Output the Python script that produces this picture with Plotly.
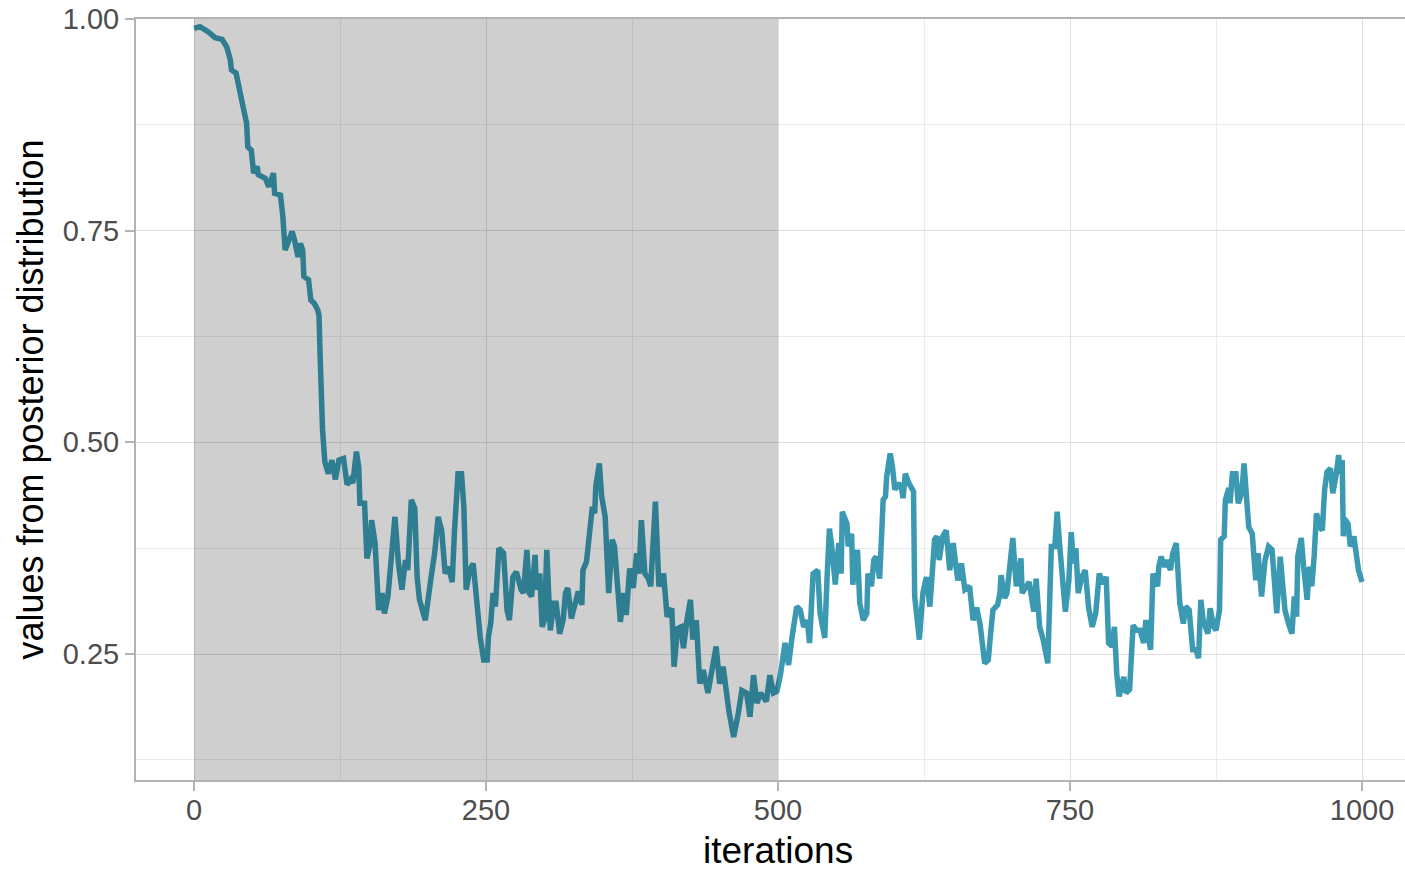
import plotly.graph_objects as go

# MCMC trace of one parameter: iteration index and sampled value
iteration = [
    0, 5, 12, 18, 24, 28, 31, 32, 36, 39, 42, 45, 46, 49, 51, 54, 55, 61, 64, 68,
    69, 74, 76, 78, 84, 86, 89, 91, 93, 94, 98, 100, 103, 106, 107, 108, 109, 110, 112, 115,
    118, 121, 124, 128, 131, 134, 136, 139, 141, 142, 146, 148, 151, 152, 155, 158, 161, 163, 166, 169,
    172, 175, 178, 181, 183, 186, 189, 191, 193, 198, 201, 203, 206, 209, 212, 215, 218, 221, 223, 226,
    229, 231, 233, 236, 239, 242, 245, 248, 251, 252, 254, 256, 258, 261, 265, 268, 270, 273, 276, 280,
    282, 285, 287, 289, 292, 293, 296, 298, 300, 302, 305, 308, 310, 313, 316, 318, 320, 323, 326, 329,
    332, 333, 336, 339, 341, 343, 344, 347, 349, 352, 355, 358, 360, 365, 368, 370, 373, 376, 379, 381,
    383, 386, 389, 391, 393, 395, 398, 402, 405, 409, 411, 414, 417, 419, 422, 425, 427, 430, 433, 436,
    440, 443, 447, 450, 453, 458, 462, 466, 469, 473, 476, 479, 482, 485, 490, 493, 496, 499, 502, 506,
    509, 512, 514, 516, 519, 522, 525, 527, 530, 534, 536, 540, 542, 544, 546, 549, 552, 554, 555, 559,
    560, 563, 564, 568, 570, 573, 576, 577, 580, 582, 584, 587, 589, 590, 592, 593, 596, 598, 600, 603,
    606, 607, 609, 612, 616, 617, 621, 624, 627, 630, 632, 634, 636, 638, 641, 644, 647, 650, 652, 654,
    657, 660, 664, 667, 670, 673, 677, 680, 682, 684, 688, 690, 691, 694, 696, 699, 701, 704, 708, 709,
    713, 715, 719, 721, 724, 727, 731, 734, 737, 739, 741, 746, 749, 751, 753, 755, 757, 760, 763, 766,
    769, 772, 775, 778, 781, 783, 786, 788, 790, 792, 796, 798, 801, 804, 807, 810, 813, 815, 817, 819,
    821, 825, 826, 828, 831, 833, 836, 838, 841, 844, 847, 849, 852, 855, 858, 860, 862, 864, 868, 870,
    873, 875, 878, 879, 882, 883, 886, 887, 889, 892, 894, 897, 899, 901, 903, 906, 909, 911, 914, 917,
    920, 923, 925, 927, 930, 934, 937, 940, 942, 944, 945, 948, 950, 953, 955, 957, 959, 961, 964, 966,
    968, 970, 973, 975, 978, 980, 981, 983, 984, 985, 988, 990, 993, 995, 997, 1000,
]

value = [
    0.989, 0.991, 0.985, 0.978, 0.976, 0.967, 0.952, 0.940, 0.936, 0.912, 0.896, 0.877, 0.849, 0.845, 0.818, 0.826, 0.816, 0.812, 0.802, 0.818,
    0.794, 0.792, 0.767, 0.727, 0.749, 0.739, 0.719, 0.735, 0.727, 0.696, 0.692, 0.668, 0.664, 0.656, 0.650, 0.600, 0.520, 0.515, 0.477, 0.463,
    0.479, 0.456, 0.479, 0.481, 0.450, 0.456, 0.452, 0.489, 0.471, 0.428, 0.428, 0.363, 0.381, 0.408, 0.381, 0.302, 0.322, 0.298, 0.318, 0.365,
    0.412, 0.357, 0.326, 0.361, 0.349, 0.432, 0.422, 0.341, 0.314, 0.290, 0.326, 0.341, 0.369, 0.412, 0.396, 0.345, 0.353, 0.335, 0.396, 0.463,
    0.463, 0.424, 0.326, 0.349, 0.357, 0.310, 0.270, 0.243, 0.243, 0.270, 0.286, 0.322, 0.306, 0.375, 0.369, 0.302, 0.290, 0.341, 0.347, 0.326,
    0.322, 0.373, 0.322, 0.318, 0.367, 0.326, 0.345, 0.282, 0.290, 0.373, 0.278, 0.310, 0.310, 0.274, 0.290, 0.322, 0.328, 0.292, 0.310, 0.324,
    0.308, 0.349, 0.359, 0.400, 0.424, 0.416, 0.448, 0.475, 0.436, 0.412, 0.322, 0.385, 0.377, 0.288, 0.322, 0.296, 0.351, 0.328, 0.369, 0.345,
    0.408, 0.345, 0.339, 0.330, 0.377, 0.430, 0.330, 0.345, 0.294, 0.304, 0.235, 0.280, 0.282, 0.257, 0.290, 0.314, 0.267, 0.290, 0.215, 0.231,
    0.204, 0.227, 0.259, 0.215, 0.235, 0.182, 0.152, 0.180, 0.207, 0.204, 0.176, 0.225, 0.192, 0.204, 0.194, 0.225, 0.204, 0.206, 0.225, 0.263,
    0.237, 0.270, 0.294, 0.306, 0.302, 0.282, 0.290, 0.263, 0.345, 0.349, 0.298, 0.269, 0.341, 0.398, 0.377, 0.332, 0.381, 0.345, 0.418, 0.404,
    0.377, 0.392, 0.332, 0.373, 0.310, 0.290, 0.298, 0.345, 0.330, 0.361, 0.365, 0.339, 0.400, 0.432, 0.436, 0.459, 0.487, 0.471, 0.444, 0.452,
    0.444, 0.434, 0.463, 0.452, 0.442, 0.318, 0.267, 0.322, 0.341, 0.306, 0.345, 0.385, 0.389, 0.361, 0.389, 0.396, 0.349, 0.381, 0.357, 0.337,
    0.357, 0.326, 0.330, 0.290, 0.305, 0.285, 0.239, 0.243, 0.274, 0.302, 0.308, 0.322, 0.343, 0.316, 0.322, 0.361, 0.387, 0.330, 0.363, 0.322,
    0.330, 0.335, 0.300, 0.339, 0.282, 0.267, 0.239, 0.377, 0.377, 0.418, 0.381, 0.300, 0.337, 0.394, 0.357, 0.375, 0.322, 0.341, 0.349, 0.304,
    0.282, 0.298, 0.345, 0.333, 0.341, 0.263, 0.259, 0.282, 0.227, 0.200, 0.223, 0.204, 0.208, 0.284, 0.278, 0.278, 0.263, 0.290, 0.270, 0.255,
    0.345, 0.330, 0.353, 0.365, 0.353, 0.361, 0.349, 0.369, 0.381, 0.310, 0.286, 0.306, 0.302, 0.255, 0.255, 0.245, 0.314, 0.290, 0.274, 0.304,
    0.282, 0.278, 0.302, 0.385, 0.389, 0.432, 0.446, 0.428, 0.463, 0.463, 0.428, 0.440, 0.475, 0.424, 0.400, 0.392, 0.337, 0.369, 0.318, 0.361,
    0.377, 0.373, 0.337, 0.298, 0.365, 0.302, 0.286, 0.274, 0.318, 0.294, 0.365, 0.387, 0.353, 0.314, 0.353, 0.330, 0.365, 0.416, 0.400, 0.396,
    0.444, 0.465, 0.469, 0.440, 0.463, 0.485, 0.463, 0.479, 0.389, 0.410, 0.404, 0.377, 0.389, 0.361, 0.349, 0.335,
]

burn_in = 500

x_ticks = [0, 250, 500, 750, 1000]
x_tick_labels = ["0", "250", "500", "750", "1000"]
x_minor = [125, 375, 625, 875]
y_ticks = [0.25, 0.50, 0.75, 1.00]
y_tick_labels = ["0.25", "0.50", "0.75", "1.00"]
y_minor = [0.125, 0.375, 0.625, 0.875]

FONT = "Liberation Sans, Arial, Helvetica, sans-serif"
AXIS_GREY = "#B3B3B3"

fig = go.Figure(
    go.Scatter(
        x=iteration,
        y=value,
        mode="lines",
        line=dict(color="#3B9AB2", width=5.5),
        hoverinfo="x+y",
        showlegend=False,
    )
)

# shaded burn-in window, laid over the trace
fig.add_shape(
    type="rect",
    xref="x", yref="paper",
    x0=0, x1=burn_in, y0=0, y1=1,
    fillcolor="rgba(0,0,0,0.19)",
    line=dict(width=0),
    layer="above",
)

# x-axis title, centred on the middle of the iteration scale
fig.add_annotation(
    text="iterations",
    x=500, xref="x",
    y=0, yref="paper",
    yanchor="middle",
    yshift=-70,
    showarrow=False,
    font=dict(family=FONT, size=37, color="black"),
)

common = dict(
    showline=True,
    linecolor=AXIS_GREY,
    linewidth=2,
    ticks="outside",
    ticklen=9,
    tickwidth=1.5,
    tickcolor=AXIS_GREY,
    showgrid=True,
    gridcolor="#DEDEDE",
    gridwidth=1.4,
    zeroline=False,
    automargin=False,
    tickfont=dict(family=FONT, size=29, color="#4D4D4D"),
)

fig.update_layout(
    width=1405,
    height=870,
    margin=dict(l=136, r=0, t=19, b=90),
    paper_bgcolor="white",
    plot_bgcolor="white",
    font=dict(family=FONT),
    xaxis=dict(
        range=[-49.7, 1036.8],
        tickmode="array",
        tickvals=x_ticks,
        ticktext=x_tick_labels,
        mirror=True,
        ticklabelstandoff=-6,
        minor=dict(tickmode="array", tickvals=x_minor, showgrid=True,
                   gridcolor="#EBEBEB", gridwidth=1, ticks=""),
        **common,
    ),
    yaxis=dict(
        range=[0.1012, 1.0],
        tickmode="array",
        tickvals=y_ticks,
        ticktext=y_tick_labels,
        minor=dict(tickmode="array", tickvals=y_minor, showgrid=True,
                   gridcolor="#EBEBEB", gridwidth=1, ticks=""),
        title=dict(text="values from posterior distribution",
                   font=dict(family=FONT, size=36, color="black"), standoff=8),
        **common,
    ),
)

fig.write_html("out.html")
